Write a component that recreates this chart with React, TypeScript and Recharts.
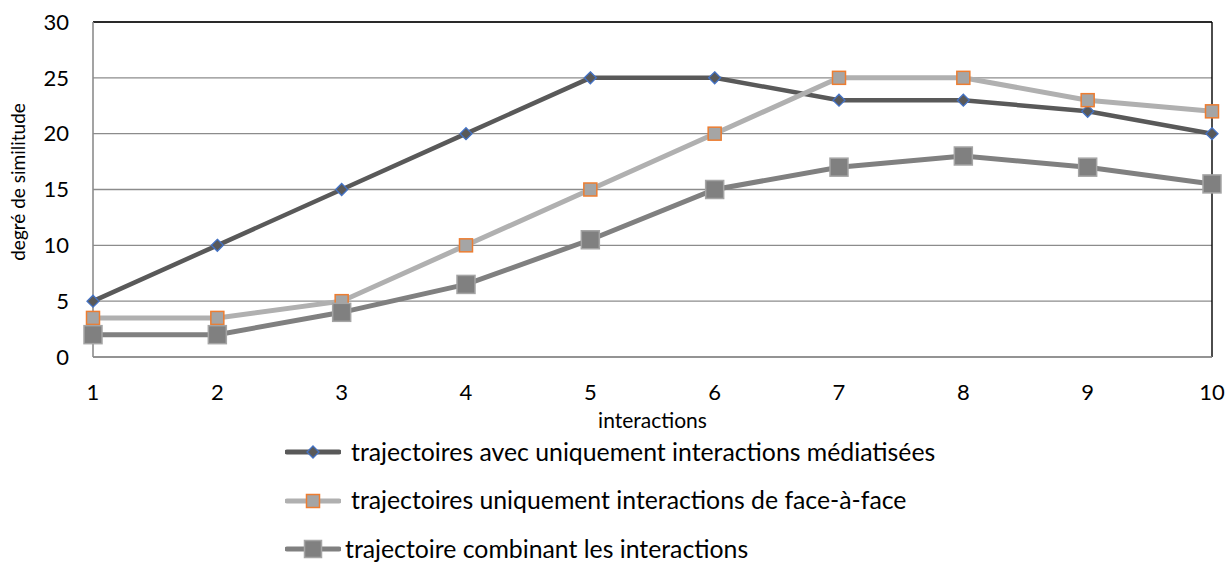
import { LineChart, Line, XAxis, YAxis, CartesianGrid, Legend, ReferenceLine } from "recharts"

const interactions = [1, 2, 3, 4, 5, 6, 7, 8, 9, 10]
const mediatisees = [5, 10, 15, 20, 25, 25, 23, 23, 22, 20]
const faceAFace = [3.5, 3.5, 5, 10, 15, 20, 25, 25, 23, 22]
const combinees = [2, 2, 4, 6.5, 10.5, 15, 17, 18, 17, 15.5]
const yTicks = [0, 5, 10, 15, 20, 25, 30]

const seriesNames = {
  mediatisees: "trajectoires avec uniquement interactions médiatisées",
  faceAFace: "trajectoires uniquement interactions de face-à-face",
  combinees: "trajectoire combinant les interactions",
}

const data = interactions.map((x, i) => ({
  x,
  mediatisees: mediatisees[i],
  faceAFace: faceAFace[i],
  combinees: combinees[i],
}))

const FONT = "Lato, 'Open Sans', sans-serif"

// marker shapes
const Diamond = ({ cx, cy, size = 6 }: any) => {
  if (cx == null || cy == null) return null
  return (
    <path
      d={`M${cx},${cy - size} L${cx + size},${cy} L${cx},${cy + size} L${cx - size},${cy} Z`}
      fill="#595959"
      stroke="#4472C4"
      strokeWidth={1.3}
    />
  )
}

const Square = ({ cx, cy, size, fill, stroke }: any) => {
  if (cx == null || cy == null) return null
  return (
    <rect
      x={cx - size / 2}
      y={cy - size / 2}
      width={size}
      height={size}
      fill={fill}
      stroke={stroke}
      strokeWidth={1.5}
    />
  )
}

const legendRows = [
  { key: "mediatisees", color: "#595959", marker: "diamond", gap: 10 },
  { key: "faceAFace", color: "#B0B0B0", marker: "orange", gap: 10 },
  { key: "combinees", color: "#808080", marker: "big", gap: 4 },
]

const LegendContent = () => (
  <div style={{ fontFamily: FONT, fontSize: 24.8, color: "#000", lineHeight: 1 }}>
    {legendRows.map((r) => (
      <div key={r.key} style={{ display: "flex", alignItems: "center", height: 48.5 }}>
        <svg width={56} height={22}>
          <line x1={2} y1={11} x2={54} y2={11} stroke={r.color} strokeWidth={5} strokeLinecap="round" />
          {r.marker === "diamond" && <Diamond cx={28} cy={11} size={6} />}
          {r.marker === "orange" && <Square cx={28} cy={11} size={13} fill="#A5A5A5" stroke="#ED7D31" />}
          {r.marker === "big" && <Square cx={28} cy={11} size={17} fill="#808080" stroke="#A5A5A5" />}
        </svg>
        <span style={{ marginLeft: r.gap, whiteSpace: "nowrap" }}>
          {seriesNames[r.key as keyof typeof seriesNames]}
        </span>
      </div>
    ))}
  </div>
)

export default function App() {
  return (
    <div style={{ position: "absolute", left: 0, top: 0, width: 1228, height: 563, background: "#fff" }}>
      <LineChart
        width={1228}
        height={563}
        data={data}
        margin={{ top: 22, right: 16, left: 0, bottom: 131 }}
        style={{ fontFamily: FONT }}
      >
        <CartesianGrid vertical={false} stroke="#8C8C8C" strokeWidth={1.4} />
        <XAxis
          dataKey="x"
          type="number"
          domain={[1, 10]}
          ticks={interactions}
          height={75}
          tickSize={0}
          tickMargin={27}
          axisLine={{ stroke: "#8C8C8C", strokeWidth: 1.6 }}
          tick={{ fontSize: 22, fill: "#000" }}
          label={{ value: "interactions", position: "insideBottom", offset: 4, fontSize: 21, fill: "#000" }}
        />
        <YAxis
          type="number"
          domain={[0, 30]}
          ticks={yTicks}
          width={93}
          tickSize={0}
          tickMargin={24}
          axisLine={{ stroke: "#8C8C8C", strokeWidth: 1.6 }}
          tick={{ fontSize: 22, fill: "#000" }}
          label={{
            content: () => (
              <text
                x={25}
                y={182}
                transform="rotate(-90 25 182)"
                textAnchor="middle"
                fontSize={19}
                fill="#000"
                fontFamily={FONT}
              >
                degré de similitude
              </text>
            ),
          }}
        />
        <ReferenceLine y={30} stroke="#000" strokeWidth={1.4} />
        <ReferenceLine x={10} stroke="#000" strokeWidth={1.4} />
        <Legend
          layout="vertical"
          align="center"
          verticalAlign="middle"
          wrapperStyle={{ top: 428, left: 285, width: "auto" }}
          content={<LegendContent />}
        />
        <Line
          type="linear"
          dataKey="mediatisees"
          name={seriesNames.mediatisees}
          stroke="#595959"
          strokeWidth={4.5}
          dot={(p: any) => <Diamond key={p.index} cx={p.cx} cy={p.cy} size={6} />}
          activeDot={false}
          isAnimationActive={false}
        />
        <Line
          type="linear"
          dataKey="faceAFace"
          name={seriesNames.faceAFace}
          stroke="#B0B0B0"
          strokeWidth={5}
          dot={(p: any) => <Square key={p.index} cx={p.cx} cy={p.cy} size={13} fill="#A5A5A5" stroke="#ED7D31" />}
          activeDot={false}
          isAnimationActive={false}
        />
        <Line
          type="linear"
          dataKey="combinees"
          name={seriesNames.combinees}
          stroke="#808080"
          strokeWidth={5}
          dot={(p: any) => <Square key={p.index} cx={p.cx} cy={p.cy} size={18} fill="#808080" stroke="#A5A5A5" />}
          activeDot={false}
          isAnimationActive={false}
        />
      </LineChart>
    </div>
  )
}
